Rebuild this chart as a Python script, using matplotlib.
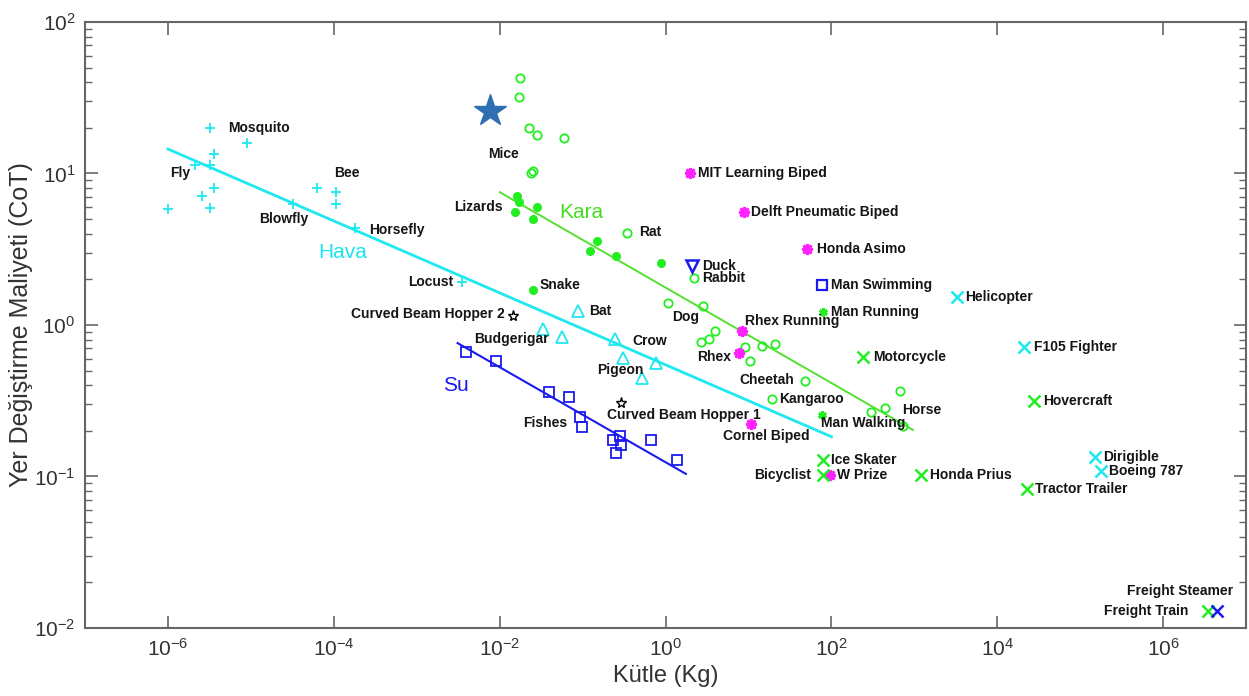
import matplotlib
matplotlib.use("Agg")
import matplotlib.pyplot as plt
from matplotlib.ticker import LogLocator, NullLocator

plt.rcParams['font.family'] = ['Liberation Sans', 'DejaVu Sans']
plt.rcParams['mathtext.fontset'] = 'custom'
plt.rcParams['mathtext.rm'] = 'Liberation Sans'
plt.rcParams['mathtext.it'] = 'Liberation Sans'
plt.rcParams['mathtext.bf'] = 'Liberation Sans:bold'

# --- data (mass in kg, cost of transport) ---
insect_m = [1.0e-6, 2.1e-6, 2.6e-6, 3.2e-6, 3.6e-6, 3.2e-6, 3.6e-6, 3.2e-6,
            8.9e-6, 3.2e-5, 6.3e-5, 1.05e-4, 1.05e-4, 1.8e-4, 3.5e-3]
insect_c = [5.8, 11.3, 7.1, 20, 13.4, 11.3, 8.0, 5.9,
            15.8, 6.3, 8.0, 7.6, 6.3, 4.4, 1.92]

bird_m = [0.087, 0.033, 0.056, 0.247, 0.31, 0.77, 0.52]
bird_c = [1.24, 0.94, 0.83, 0.81, 0.605, 0.56, 0.45]

fish_m = [0.0039, 0.0090, 0.039, 0.069, 0.094, 0.097, 0.23, 0.28, 0.29, 0.25, 0.67, 1.37]
fish_c = [0.66, 0.58, 0.36, 0.335, 0.248, 0.213, 0.175, 0.185, 0.162, 0.143, 0.175, 0.129]

mammal_m = [0.0174, 0.0170, 0.0224, 0.028, 0.060, 0.0236, 0.0251, 0.345,
            2.2, 1.07, 2.8, 3.9, 3.3, 2.7, 9.0, 14.4, 21, 10.3,
            48.5, 19, 300, 445, 670, 730]
mammal_c = [42.5, 31.8, 19.9, 17.9, 17.1, 10.0, 10.4, 4.04,
            2.04, 1.40, 1.33, 0.91, 0.81, 0.77, 0.716, 0.727, 0.75, 0.58,
            0.43, 0.325, 0.267, 0.284, 0.367, 0.216]

reptile_m = [0.0161, 0.0170, 0.028, 0.0152, 0.025, 0.150, 0.124, 0.25, 0.89, 0.025]
reptile_c = [7.1, 6.5, 6.0, 5.6, 5.0, 3.6, 3.1, 2.85, 2.56, 1.70]

human_m = [78, 76]          # Man Running, Man Walking
human_c = [1.22, 0.255]

robot_m = [1.96, 8.7, 51, 8.3, 7.6, 10.6, 97]
robot_c = [10.0, 5.56, 3.17, 0.91, 0.65, 0.222, 0.103]

duck_m, duck_c = [2.1], [2.45]
swim_m, swim_c = [76], [1.84]

hopper_m = [0.0144, 0.29]
hopper_c = [1.15, 0.306]

bigstar_m, bigstar_c = [0.0076], [25.8]

land_vehicle_m = [240, 28000, 78, 80, 1200, 23000, 3.5e6]
land_vehicle_c = [0.615, 0.315, 0.129, 0.103, 0.103, 0.083, 0.013]

air_vehicle_m = [3300, 21000, 1.5e5, 1.8e5]
air_vehicle_c = [1.53, 0.716, 0.135, 0.109]

ship_m, ship_c = [4.4e6], [0.013]

# regression line end points
hava_line_m, hava_line_c = [1.0e-6, 100], [14.5, 0.183]
kara_line_m, kara_line_c = [0.010, 960], [7.53, 0.203]
su_line_m, su_line_c = [0.0031, 1.76], [0.76, 0.104]

series = {
    "insect": (insect_m, insect_c), "bird": (bird_m, bird_c),
    "fish": (fish_m, fish_c), "mammal": (mammal_m, mammal_c),
    "reptile": (reptile_m, reptile_c), "human": (human_m, human_c),
    "robot": (robot_m, robot_c), "duck": (duck_m, duck_c),
    "swim": (swim_m, swim_c), "hopper": (hopper_m, hopper_c),
    "land": (land_vehicle_m, land_vehicle_c), "air": (air_vehicle_m, air_vehicle_c),
    "ship": (ship_m, ship_c),
}

# (text, series, index, dx px, dy px (down), ha)
labels = [
    ("Mosquito", "insect", 3, 18, 0, "left"),
    ("Fly", "insect", 1, -25, 8, "left"),
    ("Bee", "insect", 10, 17, -15, "left"),
    ("Blowfly", "insect", 9, -34, 15, "left"),
    ("Horsefly", "insect", 13, 14, 2, "left"),
    ("Locust", "insect", 14, -9, 0, "right"),
    ("Mice", "mammal", 5, -43, -19, "left"),
    ("Lizards", "reptile", 3, -12, -5, "right"),
    ("Rat", "mammal", 7, 12, -1, "left"),
    ("Snake", "reptile", 9, 7, -5, "left"),
    ("Duck", "duck", 0, 10, 0, "left"),
    ("Rabbit", "mammal", 8, 8, 0, "left"),
    ("Dog", "mammal", 9, 4, 14, "left"),
    ("Bat", "bird", 0, 11, 0, "left"),
    ("Curved Beam Hopper 2", "hopper", 0, -8, -2, "right"),
    ("Budgerigar", "bird", 2, -13, 2, "right"),
    ("Crow", "bird", 3, 17, 2, "left"),
    ("Pigeon", "bird", 4, -26, 12, "left"),
    ("Fishes", "fish", 5, -14, -4, "right"),
    ("Curved Beam Hopper 1", "hopper", 1, -14, 12, "left"),
    ("Cornel Biped", "robot", 5, -28, 12, "left"),
    ("MIT Learning Biped", "robot", 0, 8, 0, "left"),
    ("Delft Pneumatic Biped", "robot", 1, 7, 0, "left"),
    ("Honda Asimo", "robot", 2, 10, 0, "left"),
    ("Man Swimming", "swim", 0, 9, 0, "left"),
    ("Man Running", "human", 0, 8, 0, "left"),
    ("Rhex Running", "robot", 3, 3, -10, "left"),
    ("Rhex", "robot", 4, -8, 4, "right"),
    ("Cheetah", "mammal", 18, -11, -1, "right"),
    ("Kangaroo", "mammal", 19, 7, 0, "left"),
    ("Man Walking", "human", 1, -1, 8, "left"),
    ("Horse", "mammal", 22, 2, 19, "left"),
    ("Motorcycle", "land", 0, 10, 0, "left"),
    ("Helicopter", "air", 0, 8, 0, "left"),
    ("F105 Fighter", "air", 1, 10, 0, "left"),
    ("Hovercraft", "land", 1, 9, 0, "left"),
    ("Ice Skater", "land", 2, 8, 0, "left"),
    ("Bicyclist", "land", 3, -12, 0, "right"),
    ("W Prize", "robot", 6, 7, 0, "left"),
    ("Honda Prius", "land", 4, 9, 0, "left"),
    ("Dirigible", "air", 2, 8, 0, "left"),
    ("Boeing 787", "air", 3, 8, 0, "left"),
    ("Tractor Trailer", "land", 5, 8, 0, "left"),
    ("Freight Train", "land", 6, -20, 0, "right"),
    ("Freight Steamer", "ship", 0, 17, -20, "right"),
]

# group names (text, series, index, dx, dy, colour)
groups = [
    ("Hava", "insect", 13, -37, 25, "#19e6f0"),
    ("Kara", "reptile", 2, 22, 5, "#44dd22"),
    ("Su", "fish", 0, -23, 33, "#1a1aee"),
]

CYAN = "#1ee8f0"
GREEN = "#22ee22"
LGREEN = "#55e030"
BLUE = "#1a1aee"
MAGENTA = "#ff22ff"

fig = plt.figure(figsize=(12.49, 6.96), dpi=100)
ax = fig.add_axes([0.0681, 0.0977, 0.9296, 0.8707])

# fit lines
ax.plot(hava_line_m, hava_line_c, color=CYAN, lw=2.0)
ax.plot(kara_line_m, kara_line_c, color=LGREEN, lw=1.4)
ax.plot(su_line_m, su_line_c, color=BLUE, lw=1.5)

ax.plot(insect_m, insect_c, '+', color=CYAN, ms=7, mew=1.3, ls='none')
ax.plot(bird_m, bird_c, '^', color=CYAN, mfc='none', ms=8, mew=1.3, ls='none')
ax.plot(fish_m, fish_c, 's', color=BLUE, mfc='none', ms=7, mew=1.3, ls='none')
ax.plot(mammal_m, mammal_c, 'o', color=GREEN, mfc='none', ms=6, mew=1.3, ls='none')
ax.plot(reptile_m, reptile_c, 'o', color=GREEN, ms=5.5, ls='none')
ax.plot(human_m, human_c, marker=(6, 2, 0), color=GREEN, ms=6, mew=2, ls='none')
ax.plot(robot_m, robot_c, marker=(8, 2, 0), color=MAGENTA, ms=8, mew=2, ls='none')
ax.plot(duck_m, duck_c, 'v', color=BLUE, mfc='none', ms=8, mew=1.8, ls='none')
ax.plot(swim_m, swim_c, 's', color=BLUE, mfc='none', ms=7, mew=1.6, ls='none')
ax.plot(hopper_m, hopper_c, '*', color='black', mfc='none', ms=8, mew=1.0, ls='none')
ax.plot(bigstar_m, bigstar_c, '*', color='#2e6fb2', ms=24, ls='none')
ax.plot(land_vehicle_m, land_vehicle_c, 'x', color=GREEN, ms=8, mew=1.8, ls='none')
ax.plot(air_vehicle_m, air_vehicle_c, 'x', color=CYAN, ms=8, mew=1.8, ls='none')
ax.plot(ship_m, ship_c, 'x', color=BLUE, ms=8, mew=1.8, ls='none')

for text, key, i, dx, dy, ha in labels:
    xs, ys = series[key]
    ax.annotate(text, (xs[i], ys[i]), xytext=(dx, -dy), textcoords='offset pixels',
                ha=ha, va='center', fontsize=10, fontweight='bold', color='#151515')

for text, key, i, dx, dy, col in groups:
    xs, ys = series[key]
    ax.annotate(text, (xs[i], ys[i]), xytext=(dx, -dy), textcoords='offset pixels',
                ha='left', va='center', fontsize=15, color=col)

ax.set_xscale('log')
ax.set_yscale('log')
ax.set_xlim(1e-7, 1e7)
ax.set_ylim(1e-2, 1e2)
ax.set_xticks([1e-6, 1e-4, 1e-2, 1e0, 1e2, 1e4, 1e6])
ax.xaxis.set_minor_locator(NullLocator())
ax.yaxis.set_major_locator(LogLocator(base=10, numticks=10))
ax.yaxis.set_minor_locator(LogLocator(base=10, subs=range(2, 10), numticks=10))

ax.tick_params(which='both', direction='in', top=True, right=True, colors='#666666',
               labelcolor='#333333', labelsize=15, pad=7)
ax.tick_params(which='major', length=9, width=1.2)
ax.tick_params(which='minor', length=5, width=1.0)
for s in ax.spines.values():
    s.set_color('#666666')
    s.set_linewidth(1.5)

ax.set_xlabel("Kütle (Kg)", fontsize=17, color='#333333', labelpad=4)
ax.set_ylabel("Yer Değiştirme Maliyeti (CoT)", fontsize=18, color='#333333', labelpad=1)

fig.savefig("out.png", dpi=100, facecolor='white')
